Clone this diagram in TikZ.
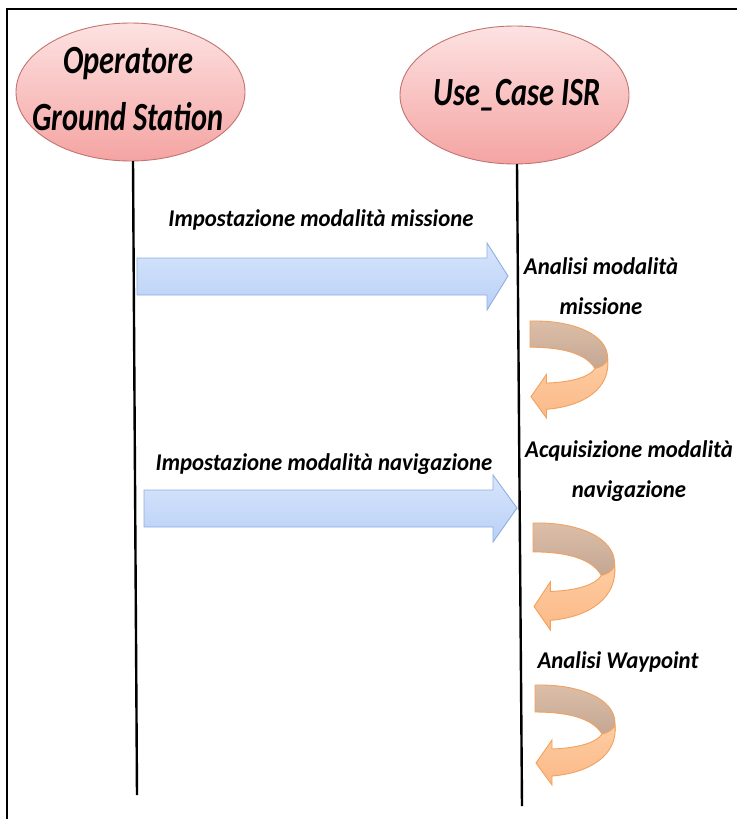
\documentclass[tikz,border=0pt]{standalone}
\usepackage{fontspec}
\setmainfont{Carlito}
\usetikzlibrary{shapes.geometric}
\definecolor{ellTop}{HTML}{FDE2E2}
\definecolor{ellBot}{HTML}{F4A4A2}
\definecolor{ellLine}{HTML}{C27470}
\definecolor{bluTop}{HTML}{D8E6FC}
\definecolor{bluBot}{HTML}{B8CFF6}
\definecolor{bluLine}{HTML}{8EAFE2}
\definecolor{tanTop}{HTML}{DDBFA8}
\definecolor{tanBot}{HTML}{C3A693}
\definecolor{orTop}{HTML}{FDCCA2}
\definecolor{orBot}{HTML}{FBB987}
\definecolor{orLine}{HTML}{F2A15E}
\newcommand{\nx}[1]{\scalebox{0.76}[1]{#1}}
\newcommand{\mx}[1]{\scalebox{0.95}[1]{#1}}
\tikzset{
  actor/.style={ellipse, minimum width=229pt, minimum height=138pt, inner sep=0pt,
    top color=ellTop, bottom color=ellBot, draw=ellLine, line width=0.9pt},
  actortext/.style={font=\fontsize{40}{57}\selectfont\bfseries\itshape, align=center},
  msgtext/.style={font=\fontsize{24}{40}\selectfont\bfseries\itshape, align=center},
  lifeline/.style={line width=2.4pt, black},
  msgarrow/.style={top color=bluTop, bottom color=bluBot, draw=bluLine, line width=0.9pt},
  backband/.style={top color=tanTop, bottom color=tanBot, draw=orLine, line width=0.9pt},
  frontband/.style={top color=orTop, bottom color=orBot, draw=orLine, line width=0.9pt},
}
\newcommand{\uturnarrow}{%
  \path[backband] (0,0) .. controls (45,-1) and (80,14) .. (80,38) -- (80,46)
    .. controls (76,50) and (71,50) .. (67,49)
    .. controls (58,34) and (35,27) .. (0,27) -- cycle;
  \path[frontband] (80,40) .. controls (83,70) and (55,88) .. (17,91)
    -- (17,100) -- (1,78) -- (17,55) -- (17,64)
    .. controls (45,63) and (62,57) .. (67,49)
    .. controls (72,48) and (78,45) .. (80,40) -- cycle;
}
\begin{document}
\begin{tikzpicture}[x=1pt,y=-1pt]
\useasboundingbox (0,0) rectangle (737,819);
\fill[white] (0,0) rectangle (737,819);
% frame
\draw[line width=2pt] (7,819) -- (7,9) -- (737,9);
% actors
\node[actor] (op) at (130.5,92) {};
\node[actortext] (optext) at (128,89) {\nx{Operatore}\\\nx{Ground Station}};
\node[actor] (uc) at (514.5,95) {};
\node[actortext, anchor=base] (uctext) at (517,105) {\nx{Use\_Case ISR}};
% lifelines
\coordinate (opEnd) at (137,795);
\coordinate (ucEnd) at (522,806);
\draw[lifeline] (133,161) -- (opEnd);
\draw[lifeline] (517,164) -- (ucEnd);
% message arrows
\path[msgarrow] (137,258) -- (487,258) -- (487,243) -- (508,276) -- (487,310) -- (487,295) -- (137,295) -- cycle;
\path[msgarrow] (144,490) -- (493,490) -- (493,475) -- (517,508) -- (493,542) -- (493,527) -- (144,527) -- cycle;
% labels
\node[msgtext, anchor=base] (m1) at (321,226) {\mx{Impostazione modalità missione}};
\node[msgtext, anchor=base] (m2) at (324,470) {\mx{Impostazione modalità navigazione}};
\node[msgtext] (a1) at (601,286) {\mx{Analisi modalità}\\\mx{missione}};
\node[msgtext] (a2) at (629,471) {\mx{Acquisizione modalità}\\\mx{navigazione}};
\node[msgtext, anchor=base] (a3) at (618,668) {\mx{Analisi Waypoint}};
% self arrows
\begin{scope}[shift={(530,321)}, xscale=0.97, yscale=0.97]\uturnarrow\end{scope}
\begin{scope}[shift={(533,523)}, xscale=1.02, yscale=1.07]\uturnarrow\end{scope}
\begin{scope}[shift={(535,685)}]\uturnarrow\end{scope}
\end{tikzpicture}
\end{document}
